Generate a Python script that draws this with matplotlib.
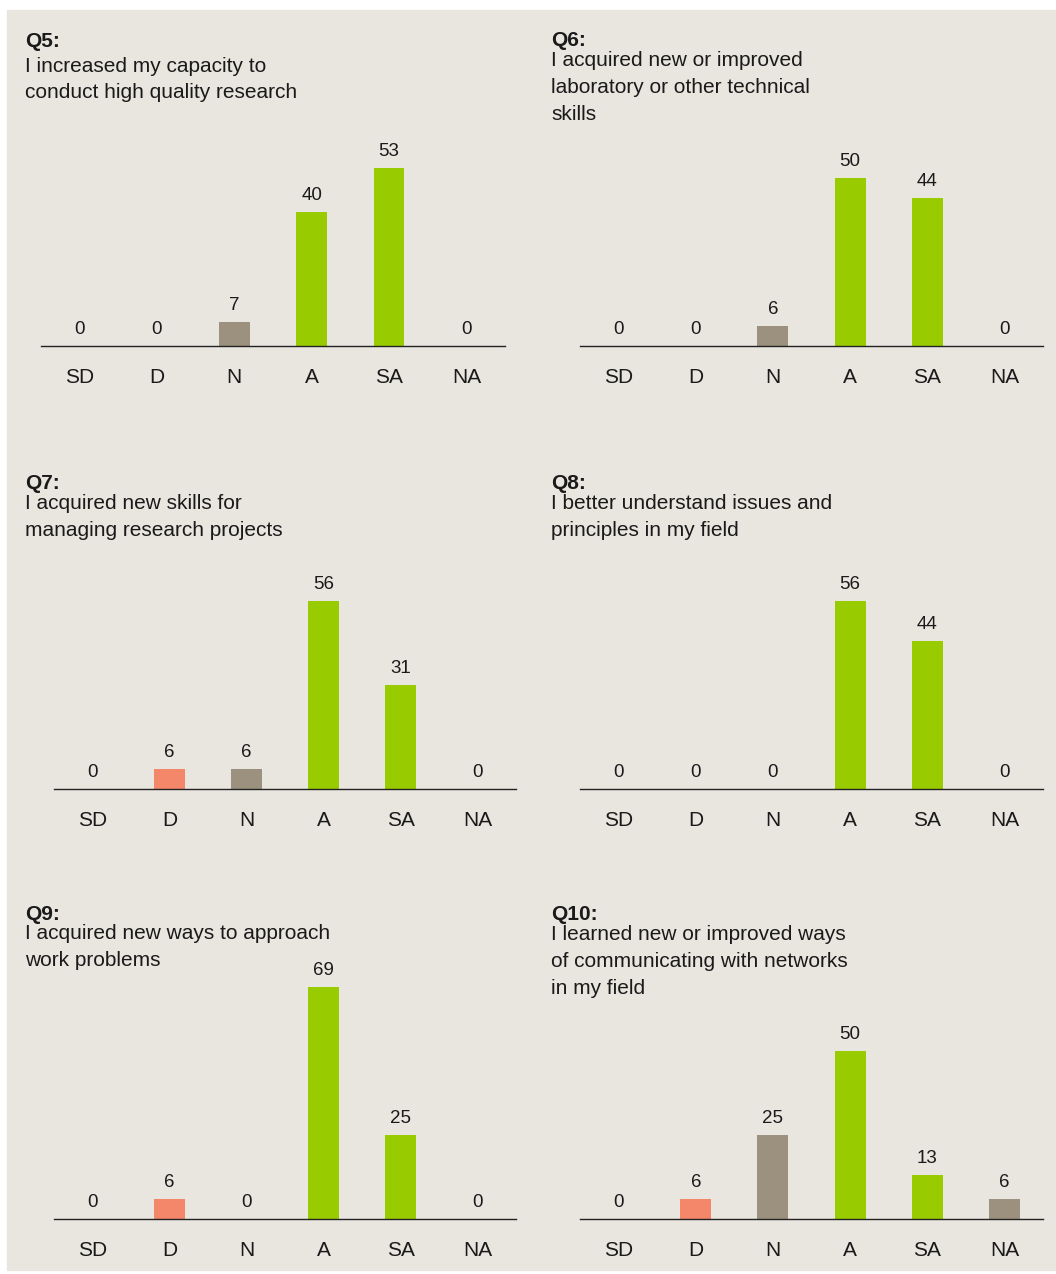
import matplotlib
matplotlib.use("Agg")
import matplotlib.pyplot as plt
from matplotlib.patches import Rectangle

plt.rcParams['font.family'] = ['Liberation Sans', 'DejaVu Sans']

# ---------------- data ----------------
categories = ["SD", "D", "N", "A", "SA", "NA"]
q5 = [0, 0, 7, 40, 53, 0]
q6 = [0, 0, 6, 50, 44, 0]
q7 = [0, 6, 6, 56, 31, 0]
q8 = [0, 0, 0, 56, 44, 0]
q9 = [0, 6, 0, 69, 25, 0]
q10 = [0, 6, 25, 50, 13, 6]
headers = ["Q5:", "Q6:", "Q7:", "Q8:", "Q9:", "Q10:"]
questions = [
    ["I increased my capacity to", "conduct high quality research"],
    ["I acquired new or improved", "laboratory or other technical", "skills"],
    ["I acquired new skills for", "managing research projects"],
    ["I better understand issues and", "principles in my field"],
    ["I acquired new ways to approach", "work problems"],
    ["I learned new or improved ways", "of communicating with networks", "in my field"],
]
series = [q5, q6, q7, q8, q9, q10]

# ---------------- style ----------------
BG = "#E9E6E0"
cat_colors = ["#C0504D", "#F4866A", "#9C917E", "#99CC00", "#99CC00", "#9C917E"]
TXT = "#1a1a1a"

W, H = 1056, 1274
fig = plt.figure(figsize=(W / 100, H / 100), dpi=100, facecolor="white")
fig.patches.append(Rectangle((7 / W, 1 - 1270 / H), (W - 7) / W, (1270 - 10) / H,
                             transform=fig.transFigure, color=BG, zorder=-10))

PX_PER_UNIT = 3.36
YMAX = 74
hpx = YMAX * PX_PER_UNIT

# panel layout in pixels: axis x0, x1, baseline y, header x, header baseline, first line baseline, line step
layout = [
    (41, 505, 346, 25, 47, 72, 26.5),
    (580, 1043, 346, 551, 46, 66, 27),
    (54, 516, 789, 25, 489, 509, 27),
    (580, 1043, 789, 551, 489, 509, 27),
    (54, 516, 1219, 25, 920, 939, 26.5),
    (580, 1043, 1219, 551, 920, 940, 27),
]

def fx(x):
    return x / W

def fy(y):
    return 1 - y / H

for vals, hdr, lines, (x0, x1, base, hx, hy, ly, step) in zip(series, headers, questions, layout):
    ax = fig.add_axes([fx(x0), fy(base), (x1 - x0) / W, hpx / H])
    ax.set_facecolor("none")
    xs = list(range(len(categories)))
    ax.bar(xs, vals, width=0.4, color=cat_colors, zorder=2)
    ax.set_xlim(-0.5, len(categories) - 0.5)
    ax.set_ylim(0, YMAX)
    for s in ["top", "left", "right"]:
        ax.spines[s].set_visible(False)
    ax.spines["bottom"].set_color("#222222")
    ax.spines["bottom"].set_linewidth(1.0)
    ax.spines["bottom"].set_zorder(3)
    ax.set_yticks([])
    ax.set_xticks(xs)
    ax.set_xticklabels(categories, fontsize=15, color=TXT)
    ax.tick_params(axis="x", length=0, pad=26.5)
    for lab in ax.get_xticklabels():
        lab.set_va("baseline")
    for x, v in zip(xs, vals):
        ax.annotate(f"{v}", (x, v), xytext=(0, 8.7), textcoords="offset points",
                    ha="center", va="baseline", fontsize=13.5, color=TXT)
    fig.text(fx(hx), fy(hy), hdr, fontsize=15, fontweight="bold", color=TXT,
             ha="left", va="baseline")
    for i, line in enumerate(lines):
        fig.text(fx(hx), fy(ly + i * step), line, fontsize=15, color=TXT,
                 ha="left", va="baseline")

fig.savefig("out.png", dpi=100, facecolor="white")
